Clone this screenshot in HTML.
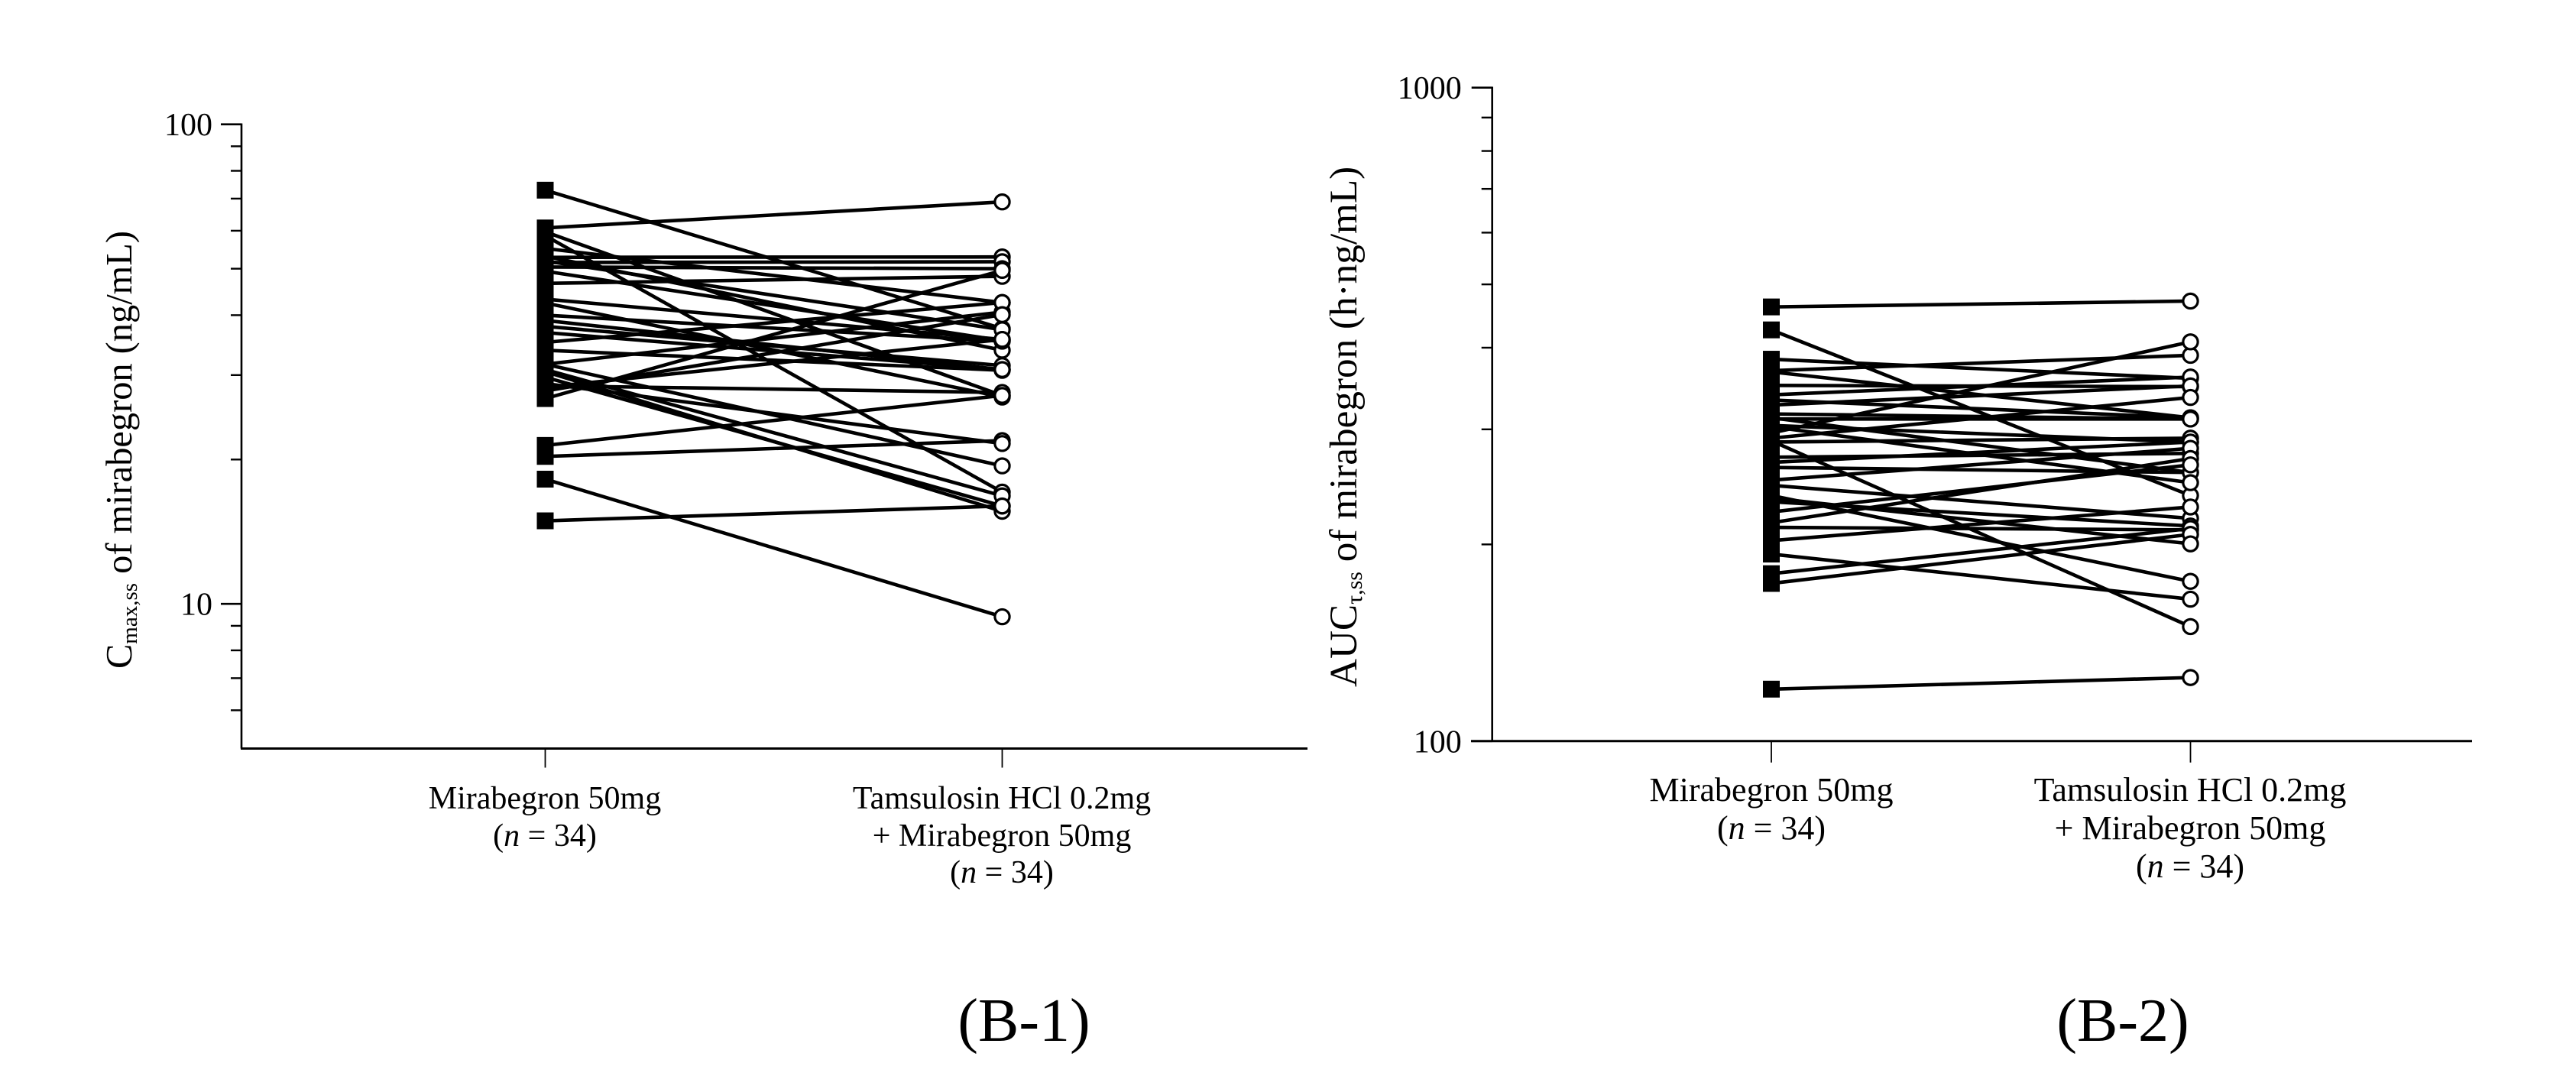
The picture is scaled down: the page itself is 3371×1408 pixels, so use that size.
<!DOCTYPE html>
<html lang="en">
<head>
<meta charset="utf-8">
<title>Mirabegron Cmax,ss and AUC paired plots</title>
<style>
html,body{margin:0;padding:0;background:#fff;}
svg{display:block;}
text{font-family:"Liberation Serif",serif;fill:#000;}
.cat{font-size:42px;text-anchor:middle;}
.cat2{font-size:44px;text-anchor:middle;}
.tick{font-size:42px;text-anchor:end;}
.panel{font-size:80px;text-anchor:middle;}
</style>
</head>
<body>
<svg id="figure" xmlns="http://www.w3.org/2000/svg" width="3371" height="1408" viewBox="0 0 3371 1408">
  <rect width="3371" height="1408" fill="#fff"/>

  <text transform="translate(172 875) rotate(-90)" font-size="48.4">C<tspan font-size="29" dy="7">max,ss</tspan><tspan dy="-7"> of mirabegron (ng/mL)</tspan></text>
  <text class="cat" x="713" y="1058">Mirabegron 50mg</text>
  <text class="cat" x="713" y="1107">(<tspan font-style="italic">n</tspan> = 34)</text>
  <text class="cat" x="1311" y="1058">Tamsulosin HCl 0.2mg</text>
  <text class="cat" x="1311" y="1107">+ Mirabegron 50mg</text>
  <text class="cat" x="1311" y="1155">(<tspan font-style="italic">n</tspan> = 34)</text>
  <text class="panel" x="1340" y="1362">(B-1)</text>

  <text transform="translate(1775 899) rotate(-90)" font-size="51.2">AUC<tspan font-size="30" dy="7">τ,ss</tspan><tspan dy="-7"> of mirabegron (h·ng/mL)</tspan></text>
  <text class="cat2" x="2318" y="1048">Mirabegron 50mg</text>
  <text class="cat2" x="2318" y="1098">(<tspan font-style="italic">n</tspan> = 34)</text>
  <text class="cat2" x="2866" y="1048">Tamsulosin HCl 0.2mg</text>
  <text class="cat2" x="2866" y="1098">+ Mirabegron 50mg</text>
  <text class="cat2" x="2866" y="1148">(<tspan font-style="italic">n</tspan> = 34)</text>
  <text class="panel" x="2778" y="1362">(B-2)</text>
</svg>
<script>
// Chart B-1: Cmax,ss of mirabegron (ng/mL)
const cmaxAlone = [72.9,60.8,59.7,58.6,52.8,51.5,50.4,46.6,55.1,53.1,30.5,51.9,49.4,43.2,42.4,40.0,39.0,37.9,28.5,33.8,21.4,20.3,18.2,14.9,28.8,31.6,30.8,29.7,36.8,26.8,31.6,35.1,27.8,28.3];
const cmaxCombo = [37.5,68.9,27.2,17.1,52.9,51.7,50.0,48.2,42.5,33.8,15.6,37.3,35.4,35.6,27.0,35.3,30.8,31.4,27.6,30.7,27.2,21.9,9.4,16.0,21.6,19.4,16.8,16.0,30.8,49.6,40.6,42.5,40.1,35.6];
const cmaxMajorTicks = [100,10];
const cmaxMajorLabels = ["100","10"];
const cmaxMinorTicks = [90,80,70,60,50,40,30,20,9,8,7,6];

// Chart B-2: AUCtau,ss of mirabegron (h.ng/mL)
const aucAlone = [461.8,425.9,384.1,367.3,350.2,368.9,338.8,332.7,326.8,316.7,311.1,296.1,290.8,312.5,304.2,286.9,288.2,271.9,267.0,262.3,250.8,246.3,237.6,232.4,215.9,224.2,212.4,202.7,193.3,180.4,174.3,120.1,235.5,302.8];
const aucCombo = [471.4,237.6,359.1,312.5,348.7,389.4,360.7,312.5,349.6,311.1,311.1,408.3,335.7,257.7,286.9,290.8,149.7,275.6,286.9,257.7,280.6,219.2,175.6,213.4,270.7,264.7,210.5,228.2,164.9,211.5,207.2,125.1,200.4,248.6];
const aucMajorTicks = [1000,100];
const aucMajorLabels = ["1000","100"];
const aucMinorTicks = [900,800,700,600,500,400,300,200];

const svgRoot = document.getElementById('figure');
const SVGNS = 'http://www.w3.org/2000/svg';

function make(tag, attrs, parent) {
  const node = document.createElementNS(SVGNS, tag);
  for (const k in attrs) node.setAttribute(k, attrs[k]);
  parent.appendChild(node);
  return node;
}

function logScale(domainMax, yAtMax, pxPerDecade) {
  return function (v) { return yAtMax + (Math.log10(domainMax) - Math.log10(v)) * pxPerDecade; };
}

function drawChart(cfg) {
  const y = cfg.y;
  const group = make('g', {}, svgRoot);
  
  

  const yAxis = make('line', {x1: cfg.axisX, x2: cfg.axisX, y1: y(cfg.yTop) - 1.2, y2: cfg.axisY, stroke: '#000', 'stroke-width': 2.6}, group);
  
  

  const xAxis = make('line', {x1: cfg.xAxisStart, x2: cfg.xAxisEnd, y1: cfg.axisY, y2: cfg.axisY, stroke: '#000', 'stroke-width': 3}, group);
  
  

  cfg.majors.forEach(function (v, i) {
    const t = make('line', {x1: cfg.axisX - 27, x2: cfg.axisX, y1: y(v), y2: y(v), stroke: '#000', 'stroke-width': 2.6}, group);
    
    
    const label = make('text', {x: cfg.axisX - cfg.labelGap, y: y(v) + 14.5, 'class': 'tick'}, group);
    label.textContent = cfg.majorLabels[i];
    
    
  });

  cfg.minors.forEach(function (v) {
    const t = make('line', {x1: cfg.axisX - 14, x2: cfg.axisX, y1: y(v), y2: y(v), stroke: '#000', 'stroke-width': 2.4}, group);
    
    
  });

  [cfg.xLeft, cfg.xRight].forEach(function (x) {
    const t = make('line', {x1: x, x2: x, y1: cfg.axisY, y2: cfg.axisY + cfg.xTickLen, stroke: '#000', 'stroke-width': 1.8}, group);
    
    
  });

  cfg.before.forEach(function (v, i) {
    const l = make('line', {x1: cfg.xLeft, y1: y(v), x2: cfg.xRight, y2: y(cfg.after[i]), stroke: '#000', 'stroke-width': 4.6}, group);
    
    
  });

  cfg.before.forEach(function (v) {
    const s = make('rect', {x: cfg.xLeft - 11, y: y(v) - 11, width: 22, height: 22, fill: '#000'}, group);
    
    
  });

  cfg.after.forEach(function (v) {
    const c = make('circle', {cx: cfg.xRight, cy: y(v), r: 9.6, fill: '#fff', stroke: '#000', 'stroke-width': 3.2}, group);
    
    
  });
}

drawChart({
  name: 'cmax',
  y: logScale(100, 162.7, 627.5),
  yTop: 100,
  axisX: 316, axisY: 979.5,
  xAxisStart: 315, xAxisEnd: 1711,
  xLeft: 713.5, xRight: 1311.5, xTickLen: 25, labelGap: 38,
  before: cmaxAlone, after: cmaxCombo,
  majors: cmaxMajorTicks, majorLabels: cmaxMajorLabels, minors: cmaxMinorTicks
});

drawChart({
  name: 'auc',
  y: logScale(1000, 114.7, 855.1),
  yTop: 1000,
  axisX: 1952.7, axisY: 969.8,
  xAxisStart: 1925, xAxisEnd: 3235,
  xLeft: 2318, xRight: 2866.5, xTickLen: 28, labelGap: 40,
  before: aucAlone, after: aucCombo,
  majors: aucMajorTicks, majorLabels: aucMajorLabels, minors: aucMinorTicks
});
</script>
</body>
</html>
